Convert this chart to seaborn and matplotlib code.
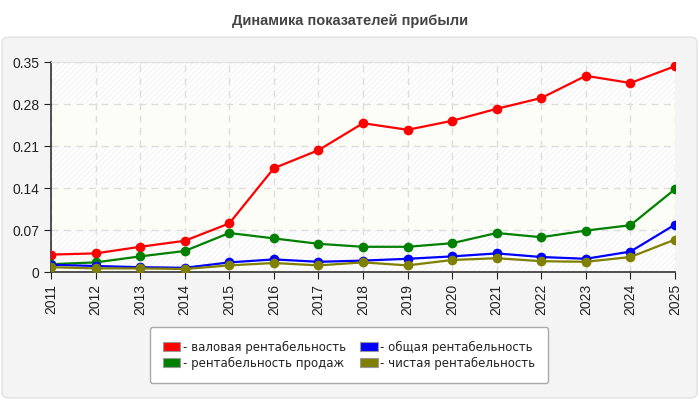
import numpy as np
import pandas as pd
import matplotlib
matplotlib.use("Agg")
import matplotlib.pyplot as plt
import seaborn as sns
from matplotlib.patches import FancyBboxPatch, Patch, Rectangle

# Данные
years = list(range(2011, 2026))
gross = [0.029, 0.031, 0.042, 0.052, 0.081, 0.173, 0.203, 0.248, 0.237, 0.252, 0.272, 0.290, 0.327, 0.315, 0.343]
sales = [0.013, 0.016, 0.026, 0.035, 0.065, 0.056, 0.047, 0.042, 0.042, 0.048, 0.065, 0.058, 0.069, 0.078, 0.138]
total = [0.012, 0.010, 0.008, 0.007, 0.016, 0.021, 0.017, 0.019, 0.022, 0.026, 0.031, 0.025, 0.022, 0.034, 0.079]
net = [0.008, 0.006, 0.006, 0.005, 0.011, 0.015, 0.011, 0.016, 0.011, 0.020, 0.023, 0.018, 0.017, 0.025, 0.054]

names = ["- валовая рентабельность", "- рентабельность продаж",
         "- общая рентабельность", "- чистая рентабельность"]
colors = ["#ff0000", "#008000", "#0000ff", "#808000"]
yticks = [0, 0.07, 0.14, 0.21, 0.28, 0.35]

df = pd.DataFrame({"year": years * 4,
                   "value": gross + sales + total + net,
                   "series": [n for n in names for _ in years]})

sns.set_style("white")
plt.rcParams['font.family'] = ['DejaVu Sans']
plt.rcParams['hatch.linewidth'] = 0.6

fig = plt.figure(figsize=(7, 4), dpi=100)
fig.patch.set_facecolor("white")

# серая панель
panel = FancyBboxPatch((2 / 700, 2 / 400), 695 / 700, 361 / 400,
                       boxstyle="round,pad=0,rounding_size=0.012",
                       transform=fig.transFigure, facecolor="#f4f4f4",
                       edgecolor="#e2e2e2", linewidth=1, zorder=-10)
fig.patches.append(panel)

fig.text(0.5, 0.948, "Динамика показателей прибыли", ha="center", va="center",
         fontsize=10.5, fontweight="bold", color="#444444", family="Liberation Sans")

ax = fig.add_axes([51 / 700, 128 / 400, 624 / 700, 210 / 400])
ax.set_facecolor("white")

# полосы фона
for i in range(5):
    lo, hi = yticks[i], yticks[i + 1]
    if i % 2 == 0:
        ax.add_patch(Rectangle((2011, lo), 14, hi - lo, facecolor="white",
                               edgecolor="#efefef", hatch="//////", linewidth=0, zorder=0))
    else:
        ax.add_patch(Rectangle((2011, lo), 14, hi - lo, facecolor="#fdfdf7",
                               edgecolor="none", linewidth=0, zorder=0))

sns.lineplot(data=df, x="year", y="value", hue="series", palette=colors,
             hue_order=names, marker="o", markersize=7, markeredgewidth=0,
             linewidth=1.6, legend=False, ax=ax, zorder=3)

ax.set_xlim(2011, 2025)
ax.set_ylim(0, 0.35)
ax.set_xticks(years)
ax.set_xticklabels([str(y) for y in years], rotation=90)
ax.set_yticks(yticks)
ax.set_yticklabels(["0", "0.07", "0.14", "0.21", "0.28", "0.35"])
ax.set_xlabel("")
ax.set_ylabel("")
ax.tick_params(axis="both", labelsize=10, colors="#222222", length=5,
               direction="out", bottom=True, left=True)
for lab in ax.get_xticklabels() + ax.get_yticklabels():
    lab.set_family("Liberation Sans")
ax.grid(True, color="#dddddd", linestyle=(0, (5, 4)), linewidth=1, zorder=1)
ax.set_axisbelow(True)
for s in ["left", "bottom"]:
    ax.spines[s].set_color("#333333")
    ax.spines[s].set_linewidth(1.2)
ax.spines["top"].set_color("#e0e0e0")
ax.spines["right"].set_visible(False)

handles = [Patch(facecolor=c, edgecolor="#999999", linewidth=0.8) for c in colors]
leg = fig.legend(handles, names, loc="center", bbox_to_anchor=(349 / 700, 1 - 355 / 400),
                 ncol=2, fontsize=8.5, frameon=True, fancybox=True, handlelength=1.5,
                 handleheight=0.7, handletextpad=0.2, columnspacing=1.2,
                 borderpad=1.1, labelspacing=0.25)
leg.get_frame().set_facecolor("white")
leg.get_frame().set_edgecolor("#aaaaaa")
leg.get_frame().set_alpha(1)
for t in leg.get_texts():
    t.set_color("#222222")

fig.savefig("out.png", dpi=100, facecolor=fig.get_facecolor())
